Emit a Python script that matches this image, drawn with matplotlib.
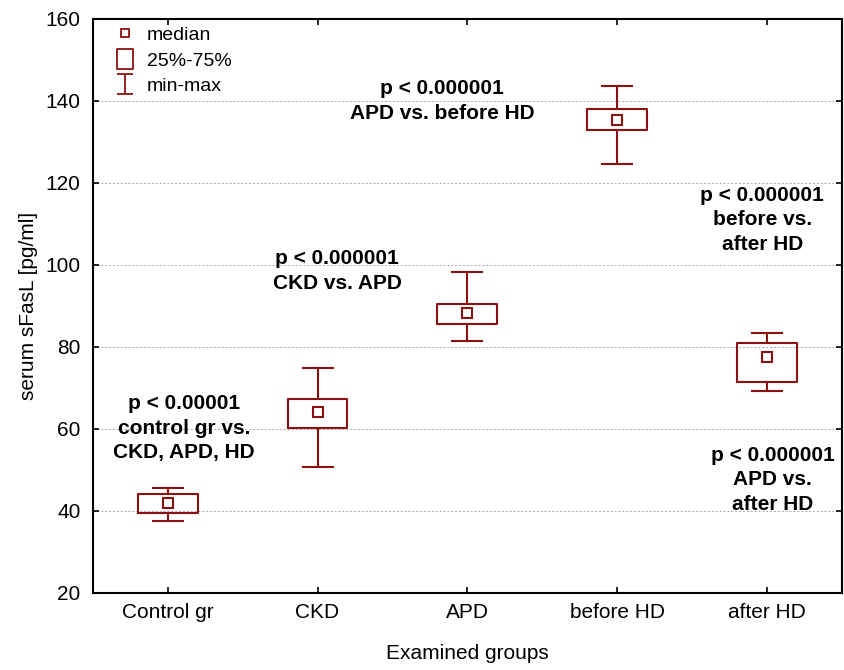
import numpy as np
import matplotlib.pyplot as plt
from matplotlib.lines import Line2D
from matplotlib.path import Path

plt.rcParams['font.family'] = ['Liberation Sans', 'DejaVu Sans']

# ------------------------------------------------------------
# data
# ------------------------------------------------------------
groups  = ['Control gr', 'CKD', 'APD', 'before HD', 'after HD']
minimum = [37.6, 50.7, 81.5, 124.7, 69.3]
q1      = [39.4, 60.2, 85.6, 132.9, 71.4]
median  = [41.9, 64.1, 88.3, 135.3, 77.6]
q3      = [44.1, 67.3, 90.5, 138.1, 80.9]
maximum = [45.7, 74.9, 98.3, 143.7, 83.5]

notes   = ['p < 0.00001\ncontrol gr vs.\nCKD, APD, HD',
           'p < 0.000001\nCKD vs. APD',
           'p < 0.000001\nAPD vs. before HD',
           'p < 0.000001\nbefore vs.\nafter HD',
           'p < 0.000001\nAPD vs.\nafter HD']
note_x  = [0.11, 1.13, 1.83, 3.97, 4.04]
note_y  = [60.2, 98.5, 140.0, 111.0, 47.6]

RED = '#8b1010'

fig = plt.figure(figsize=(8.45, 6.7), dpi=100)
ax = fig.add_axes([0.110, 0.115, 0.886, 0.857])

pos = np.arange(len(groups))
stats = [dict(med=m, q1=a, q3=b, whislo=lo, whishi=hi, fliers=[])
         for m, a, b, lo, hi in zip(median, q1, q3, minimum, maximum)]
ax.bxp(stats, positions=pos, widths=0.4, capwidths=0.2,
       boxprops=dict(color=RED, linewidth=1.5),
       whiskerprops=dict(color=RED, linewidth=1.5),
       capprops=dict(color=RED, linewidth=1.5),
       medianprops=dict(linestyle='none'),
       showfliers=False, zorder=3)
ax.plot(pos, median, linestyle='none', marker='s', markersize=7,
        markerfacecolor='white', markeredgecolor=RED, markeredgewidth=1.5,
        zorder=4)

for x, y, t in zip(note_x, note_y, notes):
    ax.text(x, y, t, ha='center', va='center', fontsize=15,
            fontweight='bold', linespacing=1.38)

ax.set_xlim(-0.5, 4.5)
ax.set_ylim(20, 160)
ax.set_yticks(np.arange(20, 161, 20))
ax.set_xticks(pos)
ax.set_xticklabels(groups)
ax.yaxis.grid(True, linestyle=(0, (2, 2)), color='#aaaaaa', linewidth=0.7)
ax.set_axisbelow(True)
ax.tick_params(direction='in', length=4, width=1.2, labelsize=15,
               top=True, right=True)
ax.tick_params(axis='y', pad=9)
ax.tick_params(axis='x', pad=7)
for s in ax.spines.values():
    s.set_linewidth(1.5)

ax.set_ylabel('serum sFasL [pg/ml]', fontsize=15, labelpad=5)
ax.set_xlabel('Examined groups', fontsize=15, labelpad=16)

# legend
box_path = Path([(-0.37, -0.5), (0.37, -0.5), (0.37, 0.5), (-0.37, 0.5), (-0.37, -0.5)],
                [Path.MOVETO, Path.LINETO, Path.LINETO, Path.LINETO, Path.CLOSEPOLY])
ibeam = Path([(-0.37, 0.5), (0.37, 0.5), (0, 0.5), (0, -0.5), (-0.37, -0.5), (0.37, -0.5)],
             [Path.MOVETO, Path.LINETO, Path.MOVETO, Path.LINETO, Path.MOVETO, Path.LINETO])
handles = [
    Line2D([], [], linestyle='none', marker='s', markersize=6,
           markerfacecolor='none', markeredgecolor=RED, markeredgewidth=1.3),
    Line2D([], [], linestyle='none', marker=box_path, markersize=15,
           markerfacecolor='none', markeredgecolor=RED, markeredgewidth=1.3),
    Line2D([], [], linestyle='none', marker=ibeam, markersize=15,
           markerfacecolor='none', markeredgecolor=RED, markeredgewidth=1.3),
]
ax.legend(handles, ['median', '25%-75%', 'min-max'], loc='upper left',
          frameon=False, fontsize=14, handlelength=1.0, handletextpad=0.6,
          labelspacing=0.4, borderaxespad=0.0, bbox_to_anchor=(0.02, 1.0))

fig.savefig('out.png', dpi=100)
